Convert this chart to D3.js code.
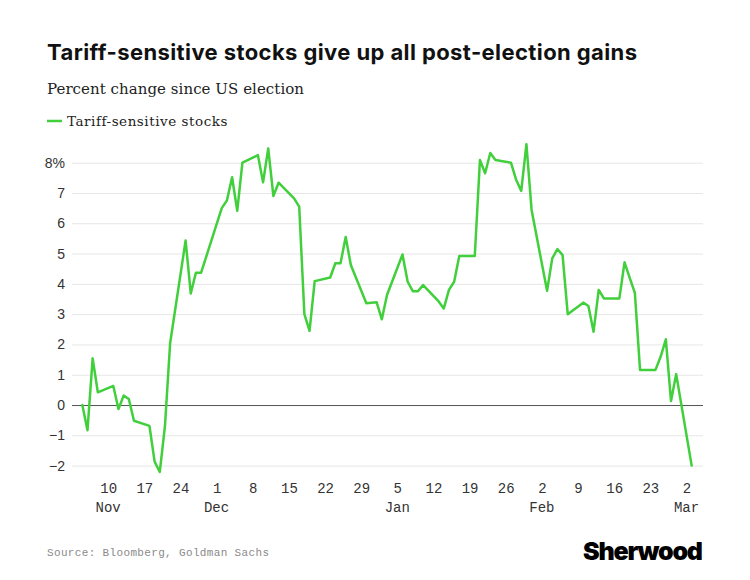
<!DOCTYPE html>
<html>
<head>
<meta charset="utf-8">
<script src="https://cdn.jsdelivr.net/npm/d3@7"></script>
<style>
  html, body { margin: 0; padding: 0; background: #fff; }
  svg { display: block; }
</style>
</head>
<body>
<svg id="chart" width="750" height="580"></svg>
<script>
// ---------------- DATA ----------------
const dates = ["2024-11-05","2024-11-06","2024-11-07","2024-11-08","2024-11-11","2024-11-12","2024-11-13","2024-11-14","2024-11-15",
"2024-11-18","2024-11-19","2024-11-20","2024-11-21","2024-11-22","2024-11-25","2024-11-26","2024-11-27","2024-11-28","2024-11-29",
"2024-12-02","2024-12-03","2024-12-04","2024-12-05","2024-12-06","2024-12-09","2024-12-10","2024-12-11","2024-12-12","2024-12-13",
"2024-12-16","2024-12-17","2024-12-18","2024-12-19","2024-12-20","2024-12-23","2024-12-24","2024-12-25","2024-12-26","2024-12-27",
"2024-12-30","2024-12-31","2025-01-01","2025-01-02","2025-01-03","2025-01-06","2025-01-07","2025-01-08","2025-01-09","2025-01-10",
"2025-01-13","2025-01-14","2025-01-15","2025-01-16","2025-01-17","2025-01-20","2025-01-21","2025-01-22","2025-01-23","2025-01-24",
"2025-01-27","2025-01-28","2025-01-29","2025-01-30","2025-01-31","2025-02-03","2025-02-04","2025-02-05","2025-02-06","2025-02-07",
"2025-02-10","2025-02-11","2025-02-12","2025-02-13","2025-02-14","2025-02-17","2025-02-18","2025-02-19","2025-02-20","2025-02-21",
"2025-02-24","2025-02-25","2025-02-26","2025-02-27","2025-02-28","2025-03-03"];

const tariffSensitive = [0, -0.83, 1.54, 0.42, 0.63, -0.13, 0.31, 0.2, -0.52,
-0.69, -1.87, -2.21, -0.7, 2.04, 5.43, 3.68, 4.37, 4.37, 4.9,
6.5, 6.75, 7.52, 6.41, 8.0, 8.25, 7.35, 8.47, 6.9, 7.34,
6.82, 6.55, 3.0, 2.45, 4.09, 4.21, 4.68, 4.68, 5.55, 4.62,
3.36, 3.38, 3.39, 2.83, 3.63, 4.97, 4.07, 3.76, 3.76, 3.96,
3.42, 3.19, 3.8, 4.07, 4.92, 4.92, 8.09, 7.65, 8.32, 8.09,
8.0, 7.44, 7.07, 8.61, 6.44, 3.77, 4.84, 5.15, 4.95, 3.0,
3.38, 3.27, 2.42, 3.8, 3.52, 3.52, 4.71, 4.2, 3.7, 1.16,
1.16, 1.6, 2.17, 0.13, 1.02, -2.0];

const yTicks = [-2, -1, 0, 1, 2, 3, 4, 5, 6, 7, 8];
const xTickDates = ["2024-11-10","2024-11-17","2024-11-24","2024-12-01","2024-12-08","2024-12-15","2024-12-22","2024-12-29",
"2025-01-05","2025-01-12","2025-01-19","2025-01-26","2025-02-02","2025-02-09","2025-02-16","2025-02-23","2025-03-02"];
const monthLabels = [["2024-11-10","Nov"],["2024-12-01","Dec"],["2025-01-05","Jan"],["2025-02-02","Feb"],["2025-03-02","Mar"]];

const titleText = "Tariff-sensitive stocks give up all post-election gains";
const subtitleText = "Percent change since US election";
const seriesName = "Tariff-sensitive stocks";
const sourceText = "Source: Bloomberg, Goldman Sachs";
const brandText = "Sherwood";

// ---------------- SETUP ----------------
const parse = d3.utcParse("%Y-%m-%d");
const data = dates.map((d, i) => ({ date: parse(d), value: tariffSensitive[i] }));
const svg = d3.select("#chart");
const GREEN = "#41cf3c";

const plotLeft = 72, plotRight = 703;
const x = d3.scaleUtc()
  .domain([parse("2024-11-03"), parse("2025-03-05")])
  .range([72, 702]);
const y = d3.scaleLinear().domain([-2, 8]).range([465.6, 162.7]);

function fit(sel, target) {
  const node = sel.node();
  const n = sel.text().length;
  const w = node.getComputedTextLength();
  sel.attr("letter-spacing", ((target - w) / (n - 1)).toFixed(3) + "px");
}

// Title
const title = svg.append("text").attr("x", 47).attr("y", 60)
  .attr("font-family", "Inter, 'Liberation Sans', sans-serif")
  .attr("font-weight", 700).attr("font-size", 22).attr("fill", "#111")
  .text(titleText);
fit(title, 590);

// Subtitle
const sub = svg.append("text").attr("x", 47).attr("y", 94)
  .attr("font-family", "'DejaVu Serif', 'Liberation Serif', serif")
  .attr("font-size", 15).attr("fill", "#222")
  .text(subtitleText);
fit(sub, 257);

// Legend
svg.append("line").attr("x1", 47).attr("x2", 62).attr("y1", 121).attr("y2", 121)
  .attr("stroke", GREEN).attr("stroke-width", 2.5);
const leg = svg.append("text").attr("x", 67).attr("y", 126)
  .attr("font-family", "'DejaVu Serif', 'Liberation Serif', serif")
  .attr("font-size", 13.5).attr("fill", "#222")
  .text(seriesName);
fit(leg, 160);

// Y axis with grid
const yAxis = d3.axisLeft(y)
  .tickValues(yTicks)
  .tickSize(-(plotRight - plotLeft))
  .tickPadding(7)
  .tickFormat(d => d === 8 ? "8%" : d3.format("")(d));
const gy = svg.append("g").attr("transform", `translate(${plotLeft},0)`).call(yAxis);
gy.select(".domain").remove();
gy.selectAll(".tick line").attr("stroke", d => d === 0 ? "#555" : "#e6e6e6").attr("stroke-width", 1);
gy.selectAll(".tick text")
  .attr("font-family", "'Liberation Sans', Arial, sans-serif")
  .attr("font-size", 14).attr("fill", "#333");
gy.selectAll(".tick").filter(d => d === 0).raise();

// X axis
const xAxis = d3.axisBottom(x)
  .tickValues(xTickDates.map(parse))
  .tickSize(0)
  .tickFormat(d3.utcFormat("%-d"));
const gx = svg.append("g").attr("transform", `translate(0,${y(-2)})`).call(xAxis);
gx.select(".domain").remove();
gx.selectAll(".tick text")
  .attr("y", 23).attr("dy", "0.35em")
  .attr("font-family", "'Liberation Mono', 'DejaVu Sans Mono', monospace")
  .attr("font-size", 14).attr("fill", "#333");

// Month labels
svg.append("g").selectAll("text").data(monthLabels).join("text")
  .attr("x", d => x(parse(d[0])))
  .attr("y", y(-2) + 41).attr("dy", "0.35em")
  .attr("text-anchor", "middle")
  .attr("font-family", "'Liberation Mono', 'DejaVu Sans Mono', monospace")
  .attr("font-size", 14).attr("fill", "#333")
  .text(d => d[1]);

// Line
const line = d3.line().x(d => x(d.date)).y(d => y(d.value));
svg.append("path").datum(data)
  .attr("d", line)
  .attr("fill", "none")
  .attr("stroke", GREEN)
  .attr("stroke-width", 2.5)
  .attr("stroke-linejoin", "round")
  .attr("stroke-linecap", "round");

// Source
const src = svg.append("text").attr("x", 47).attr("y", 556)
  .attr("font-family", "'Liberation Mono', 'DejaVu Sans Mono', monospace")
  .attr("font-size", 11).attr("fill", "#8a8a8a")
  .text(sourceText);
fit(src, 222);

// Brand
const brand = svg.append("text").attr("x", 583).attr("y", 560)
  .attr("font-family", "Inter, 'Liberation Sans', sans-serif")
  .attr("font-weight", 900).attr("font-size", 25).attr("fill", "#000")
  .text(brandText);
fit(brand, 120);
</script>
</body>
</html>
